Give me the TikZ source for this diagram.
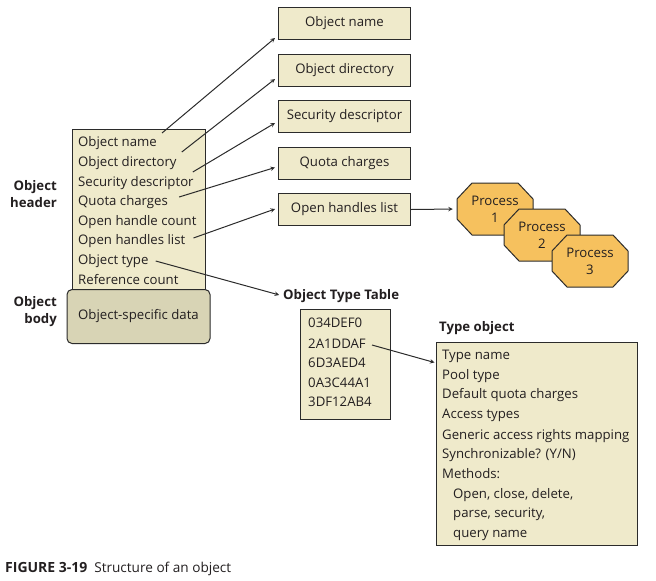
\documentclass[tikz,border=0pt]{standalone}
\usepackage{fontspec}
\setmainfont{Open Sans}
\definecolor{beige}{HTML}{EFEACB}
\definecolor{bodygray}{HTML}{D8D4B5}
\definecolor{procorange}{HTML}{F6C15E}
\definecolor{edgegray}{HTML}{2B2B2B}
\definecolor{inkgray}{HTML}{231F20}

\begin{document}
\begin{tikzpicture}[>=stealth,x=1pt,y=-1pt,
    font=\fontsize{13.2}{17}\selectfont,text=inkgray,
    box/.style={draw=edgegray,fill=beige,line width=1pt},
    fieldbox/.style={box,minimum width=132pt,minimum height=32pt,inner sep=0pt},
    row/.style={anchor=west,inner sep=1pt,text height=13pt,text depth=2pt},
    heading/.style={font=\fontsize{13.2}{17}\selectfont\bfseries,align=right,inner sep=0pt},
    octo/.style={draw=edgegray,fill=procorange,line width=1pt,line join=round},
    ptr/.style={->,line width=1pt,draw=edgegray}]
    \useasboundingbox (0,0) rectangle (656,581);

    % object header and body
    \draw[box] (72,129) rectangle (205,295);
    \foreach \n/\t/\y in {hname/Object name/141,hdir/Object directory/161,hsec/Security descriptor/181,
        hquota/Quota charges/200,hcount/Open handle count/220,hlist/Open handles list/239,
        htype/Object type/259,hrefc/Reference count/279}
        \node[row] (\n) at (77,\y) {\t};
    \node[box,fill=bodygray,rounded corners=5pt,minimum width=143pt,minimum height=54pt] (body)
        at (138.5,316.5) {Object-specific data};
    \node[heading,anchor=east] (lhead) at (57,194.5) {Object\\header};
    \node[heading,anchor=east] (lbody) at (57,312) {Object\\body};

    % fields pointed to
    \foreach \n/\t/\y in {oname/Object name/23.5,odir/Object directory/70.5,osec/Security descriptor/116.5,
        oquota/Quota charges/163,olist/Open handles list/209.5}
        \node[fieldbox] (\n) at (344.5,\y) {\t};
    \foreach \s/\d/\sx/\sy/\dy in {hname/oname/4/-8/2,hdir/odir/4/-9/8,hsec/osec/-2/-9/10,
        hquota/oquota/10/-3/12,hlist/olist/7/-1/17}
        \draw[ptr] ([shift={(\sx,\sy)}]\s.east) -- ([shift={(-3,-\dy)}]\d.south west);

    % processes
    \foreach \n/\x/\y/\k in {p1/495/209/1,p2/542/235/2,p3/590/261/3} {
        \filldraw[octo] (\x-38,\y-10) -- (\x-23,\y-26) -- (\x+23,\y-26) -- (\x+38,\y-10)
            -- (\x+38,\y+10) -- (\x+23,\y+26) -- (\x-23,\y+26) -- (\x-38,\y+10) -- cycle;
        \node[align=center,inner sep=0pt,minimum width=76pt,minimum height=52pt] (\n)
            at (\x,\y) {Process\\\k};
    }
    \draw[ptr,shorten >=4pt] (olist.east) -- (p1.west);

    % object type table
    \node[heading,anchor=west] (ttl) at (283,296) {Object Type Table};
    \draw[ptr,shorten >=4pt] ([shift={(6,2)}]htype.east) -- (ttl.west);
    \node[box,minimum width=90pt,minimum height=110pt,inner sep=0pt] (ttab) at (345,364) {};
    \foreach \n/\t/\y in {t1/034DEF0/322,t2/2A1DDAF/343,t3/6D3AED4/362,t4/0A3C44A1/382,t5/3DF12AB4/401}
        \node[row] (\n) at (307,\y) {\t};

    % type object
    \node[heading,anchor=west] (ltype) at (439,328) {Type object};
    \node[box,minimum width=201pt,minimum height=203pt,inner sep=0pt] (tobj) at (536.5,443.5) {};
    \foreach \t/\x/\y in {Type name/441/354,Pool type/441/374,Default quota charges/441/393,
        Access types/441/413,Generic access rights mapping/441/434,{Synchronizable? (Y/N)}/441/453,
        Methods:/441/473,{Open, close, delete,}/452/493,{parse, security,}/452/512,query name/452/532}
        \node[row] at (\x,\y) {\t};
    \draw[ptr] ([shift={(5,2)}]t2.east) -- ([shift={(-1,21)}]tobj.north west);

    % caption
    \node[anchor=west,inner sep=0pt] (cap) at (5,569)
        {{\fontsize{14}{17}\selectfont\bfseries FIGURE 3-19}\ \ {\fontsize{13.6}{17}\selectfont Structure of an object}};
\end{tikzpicture}
\end{document}
